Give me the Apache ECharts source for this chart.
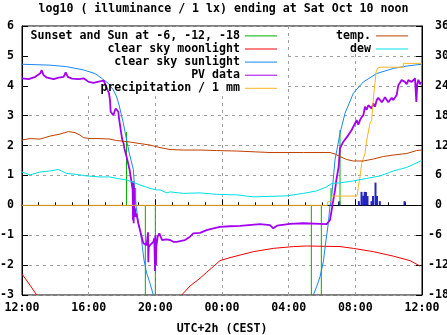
<!DOCTYPE html>
<html><head><meta charset="utf-8">
<script src="https://cdn.jsdelivr.net/npm/echarts@6/dist/echarts.min.js"></script>
<style>html,body{margin:0;padding:0;background:#fff}#c{width:447px;height:335px}</style>
</head><body><div id="c"></div>
<script>
// hours since Fri 12:00 (UTC+2h)
const titleText = 'log10 ( illuminance / 1 lx) ending at Sat Oct 10 noon';
const xName = 'UTC+2h (CEST)';

const twilightTime  = [6.27, 6.82, 7.40, 8.00, 17.36, 17.96, 18.54, 19.08];
const twilightLevel = [2.45, 0.58, -3.5, -3.5, -3.5, -3.5, 0.58, 2.52];

const moonH = [0.0, 0.48, 0.88, 5.0, 9.58, 10.08, 10.68, 11.08, 11.48, 11.88, 12.48, 13.88, 15.08, 16.28, 17.08, 19.08, 19.88, 21.08, 22.28, 23.28, 23.88];
const moonV = [-2.3, -2.67, -3.0, null, -3.0, -2.7, -2.44, -2.24, -2.05, -1.85, -1.75, -1.55, -1.44, -1.38, -1.36, -1.38, -1.44, -1.55, -1.70, -1.85, -2.03];

const sunH = [0, 1.68, 2.68, 3.68, 4.38, 4.78, 5.18, 5.48, 5.68, 5.82, 5.94, 6.08, 6.18, 6.32, 6.44, 6.54, 6.68, 6.76, 6.84, 6.98, 7.12, 7.22, 7.32, 7.48, 7.68, 7.88, 12.0,
  17.48, 17.68, 17.88, 18.08, 18.24, 18.38, 18.48, 18.58, 18.78, 19.08, 19.38, 19.88, 20.48, 21.28, 22.28, 23.08, 23.98];
const sunV = [4.72, 4.69, 4.64, 4.53, 4.41, 4.25, 4.08, 3.86, 3.63, 3.36, 3.08, 2.75, 2.46, 2.07, 1.74, 1.51, 1.2, 0.55, 0.0, -0.6, -0.94, -1.38, -1.83, -2.27, -2.61, -3.0, null,
  -3.0, -2.72, -2.39, -1.89, -1.16, -0.6, 0.0, 0.29, 1.52, 2.41, 3.08, 3.75, 4.13, 4.41, 4.58, 4.66, 4.72];

const pvH = [0, 0.4, 0.8, 1.1, 1.18, 1.3, 1.5, 1.9, 2.2, 2.5, 2.62, 2.75, 3.0, 3.4, 3.7, 4.0, 4.3, 4.6, 4.9, 5.02, 5.14, 5.22, 5.28, 5.32, 5.38, 5.48, 5.58, 5.62, 5.68, 5.78, 5.82, 5.88, 5.94, 6.02, 6.1, 6.14, 6.22, 6.32, 6.46, 6.58, 6.64,
  6.66, 6.68, 6.70, 6.72, 6.74, 6.78, 6.8, 6.86, 6.98, 7.08, 7.18, 7.28, 7.48, 7.56, 7.58, 7.60, 7.68, 7.78, 7.88, 7.94, 7.98, 8.0, 8.04, 8.06, 8.14, 8.24, 8.34, 8.4, 8.5, 8.68, 8.88, 9.08, 9.28, 9.48, 9.78, 10.08, 10.28, 10.68, 11.08, 11.48, 11.88, 12.48, 13.08, 14.28, 14.88, 15.08, 15.3, 16.08, 16.88, 17.88, 18.28, 18.48, 18.58, 18.68, 18.78, 18.86, 18.94, 19.0, 19.08, 19.28, 19.58, 19.78, 20.08, 20.18, 20.28, 20.38, 20.48, 20.58, 20.68, 20.78, 20.88, 20.98, 21.08, 21.18, 21.28, 21.38, 21.48, 21.58, 21.68, 21.78, 21.88, 21.98, 22.08, 22.18, 22.28, 22.38, 22.48, 22.58, 22.68, 22.78, 22.88, 22.98, 23.08, 23.18, 23.28, 23.38, 23.48, 23.58, 23.66, 23.72, 23.78, 23.88, 23.98];
const pvV = [4.25, 4.22, 4.3, 4.42, 4.52, 4.35, 4.27, 4.22, 4.27, 4.3, 4.45, 4.3, 4.24, 4.22, 4.25, 4.13, 4.1, 4.14, 4.17, 4.02, 3.85, 3.75, 3.52, 3.13, 3.08, 3.02, 2.96, 3.24, 3.3, 3.13, 2.91, 2.69, 2.46, 2.18, 2.07, 1.91, 1.74, 1.52, 1.18, 0.74, 0.51,
  -0.5, 0.8, -0.6, 0.6, -0.3, -0.1, -0.38, -0.27, -0.6, -0.83, -1.05, -1.27, -1.33, -0.9, -1.9, -1.4, -1.33, -1.27, -1.22, -1.1, -2.2, -1.0, -2.0, -1.38, -1.05, -0.94, -0.99, -1.16, -1.16, -1.14, -1.16, -1.22, -1.22, -1.2, -1.16, -1.05, -0.94, -0.92, -0.83, -0.77, -0.72, -0.7, -0.69, -0.63, -0.66, -0.77, -0.68, -0.62, -0.6, -0.62, -0.63, -0.49, -0.16, 0.18, 0.5, 0.84, 1.1, 1.3, 1.91, 2.13, 2.35, 2.52, 2.85, 2.7, 2.85, 2.95, 3.02, 3.3, 3.2, 3.35, 3.4, 3.24, 3.41, 3.3, 3.52, 3.6, 3.58, 3.45, 3.52, 3.62, 3.58, 3.45, 3.41, 3.6, 3.52, 3.5, 3.69, 4.02, 4.1, 4.19, 4.25, 4.13, 4.05, 4.19, 4.25, 4.13, 4.1, 4.25, 3.46, 4.08, 4.2, 4.05, 4.13];

const precH = [0, 18.34, 18.34, 18.58, 18.58, 20.1, 20.18, 20.28, 20.38, 20.58, 20.68, 20.88, 20.98, 21.04, 21.12, 21.18, 21.24, 21.32, 21.48, 22.88, 22.88, 23.98];
const precV = [0, 0, 0.12, 0.12, 0.31, 0.31, 0.62, 0.96, 1.4, 1.74, 2.18, 2.74, 2.85, 3.3, 3.8, 4.1, 4.45, 4.58, 4.62, 4.62, 4.75, 4.75];

const rainH = [19.04, 20.21, 20.37, 20.47, 20.56, 20.64, 20.73, 20.97, 21.06, 21.21, 21.30, 21.47, 22.95];
const rainV = [0.14, 0.14, 0.45, 0.32, 0.45, 0.45, 0.31, 0.14, 0.31, 0.76, 0.31, 0.14, 0.14];

const tempH = [0, 0.48, 1.08, 1.68, 2.28, 2.78, 3.18, 3.48, 3.68, 4.08, 4.68, 5.28, 5.68, 6.28, 7.08, 7.68, 8.28, 8.88, 9.68, 10.68, 11.68, 12.88, 14.88, 16.88, 18.48, 18.78, 19.08, 19.48, 19.88, 20.48, 21.08, 21.68, 22.28, 23.08, 23.68, 23.98];
const tempV = [13.1, 13.4, 13.3, 13.9, 14.3, 14.8, 14.6, 14.1, 13.6, 13.4, 13.4, 13.3, 13.0, 12.8, 12.4, 12.1, 11.6, 11.2, 11.1, 11.1, 11.0, 10.9, 10.6, 10.6, 10.6, 10.3, 9.8, 9.2, 8.9, 8.9, 9.3, 9.8, 10.1, 10.4, 11.0, 11.1];

const dewH = [0, 0.48, 1.08, 1.68, 2.18, 2.68, 3.28, 3.88, 4.68, 5.28, 5.68, 6.28, 7.08, 7.68, 8.08, 8.28, 8.68, 8.88, 9.68, 10.68, 11.68, 12.88, 13.88, 15.88, 16.88, 17.68, 18.28, 18.58, 19.08, 19.88, 20.68, 21.48, 22.28, 23.08, 23.98];
const dewV = [6.7, 6.1, 6.7, 6.9, 7.2, 6.4, 6.2, 5.9, 5.7, 5.7, 5.4, 5.1, 4.1, 3.4, 3.1, 3.1, 2.5, 2.7, 2.4, 2.5, 2.2, 2.1, 1.7, 1.9, 2.4, 2.9, 3.7, 4.4, 4.5, 4.9, 5.4, 5.9, 6.9, 7.6, 9.0];

const leftTicks = {min: -3, max: 6, interval: 1};
const rightTicks = {min: -18, max: 36, interval: 6};

const FONT = 'DejaVu Sans Mono';
const FS = 11.6;
const txt = {fontFamily: FONT, fontWeight: 'bold', fontSize: FS, color: '#000'};

const pairs = (a, b) => a.map((h, i) => [h, b[i]]);
const greenData = [];
twilightTime.forEach((t, i) => { greenData.push([t, 0], [t, twilightLevel[i]], [t, null]); });

const C = {green:'#00b000', red:'#f00000', blue:'#1a86f0', purple:'#a400f0', orange:'#f8b420', brown:'#c04000', cyan:'#00e0ea', bars:'#2424c0'};

function lineSeries(name, data, color, width, yIdx) {
  return {name, type: 'line', data, yAxisIndex: yIdx || 0, symbol: 'none', showSymbol: false,
    connectNulls: false, animation: false, clip: true,
    lineStyle: {color, width}, itemStyle: {color}, emphasis: {disabled: true}};
}

function legendItem(name, top, right) {
  return {data: [name], top, right, orient: 'horizontal', align: 'right', padding: 0,
    icon: 'rect', itemWidth: 32, itemHeight: 1, selectedMode: false,
    textStyle: Object.assign({}, txt, {lineHeight: 13})};
}
const rowTop = [29.4, 42.5, 55.6, 68.7, 81.8];

const chart = echarts.init(document.getElementById('c'), null, {renderer: 'canvas'});
chart.setOption({
  animation: false,
  backgroundColor: '#fff',
  title: {text: titleText, left: 'center', top: 3, padding: 0, textStyle: txt},
  grid: {left: 22, right: 25, top: 26, bottom: 40, containLabel: false, outerBoundsMode: 'none',
    show: true, borderColor: '#000', borderWidth: 1, backgroundColor: 'transparent'},
  legend: [
    legendItem('Sunset and Sun at -6, -12, -18', rowTop[0], 170),
    legendItem('clear sky moonlight', rowTop[1], 170),
    legendItem('clear sky sunlight', rowTop[2], 170),
    legendItem('PV data', rowTop[3], 170),
    legendItem('precipitation / 1 mm', rowTop[4], 170),
    legendItem('temp.', rowTop[0], 39),
    legendItem('dew', rowTop[1], 39)
  ],
  graphic: [
    {type: 'rect', z: 1, shape: {x: 28, y: 27, width: 256, height: 66}, style: {fill: '#fff'}},
    {type: 'rect', z: 1, shape: {x: 292, y: 27, width: 126, height: 27}, style: {fill: '#fff'}}
  ],
  xAxis: {
    type: 'value', min: 0, max: 24, interval: 4,
    name: xName, nameLocation: 'middle', nameGap: 28, nameTextStyle: txt,
    axisLine: {show: true, lineStyle: {color: '#000', width: 1}},
    axisTick: {show: true, inside: true, length: 6, lineStyle: {color: '#000'}},
    minorTick: {show: true, splitNumber: 4, length: 3, lineStyle: {color: '#000'}},
    axisLabel: Object.assign({}, txt, {margin: 7, formatter: v => String((12 + v) % 24).padStart(2, '0') + ':00'}),
    splitLine: {show: true, lineStyle: {color: '#a0a0a0', type: [3, 4], width: 1}}
  },
  yAxis: [
    {type: 'value', min: leftTicks.min, max: leftTicks.max, interval: leftTicks.interval,
      axisLine: {show: true, lineStyle: {color: '#000'}},
      axisTick: {show: true, inside: true, length: 6, lineStyle: {color: '#000'}},
      axisLabel: Object.assign({}, txt, {margin: 8}),
      splitLine: {show: true, lineStyle: {color: '#a0a0a0', type: [3, 4], width: 1}}},
    {type: 'value', position: 'right', min: rightTicks.min, max: rightTicks.max, interval: rightTicks.interval,
      axisLine: {show: true, lineStyle: {color: '#000'}},
      axisTick: {show: true, inside: true, length: 6, lineStyle: {color: '#000'}},
      axisLabel: Object.assign({}, txt, {margin: 6, align: 'left', formatter: v => (v < 0 ? String(v) : ' ' + v)}),
      splitLine: {show: false}}
  ],
  series: [
    lineSeries('Sunset and Sun at -6, -12, -18', greenData, C.green, 1),
    lineSeries('clear sky moonlight', pairs(moonH, moonV), C.red, 1),
    lineSeries('clear sky sunlight', pairs(sunH, sunV), C.blue, 1),
    lineSeries('PV data', pairs(pvH, pvV), C.purple, 1.8),
    lineSeries('precipitation / 1 mm', pairs(precH, precV), C.orange, 1),
    {name: 'rain', type: 'bar', data: pairs(rainH, rainV), barWidth: 2, itemStyle: {color: C.bars}, animation: false, emphasis: {disabled: true}},
    lineSeries('temp.', pairs(tempH, tempV), C.brown, 1, 1),
    lineSeries('dew', pairs(dewH, dewV), C.cyan, 1, 1)
  ]
});
</script></body></html>
